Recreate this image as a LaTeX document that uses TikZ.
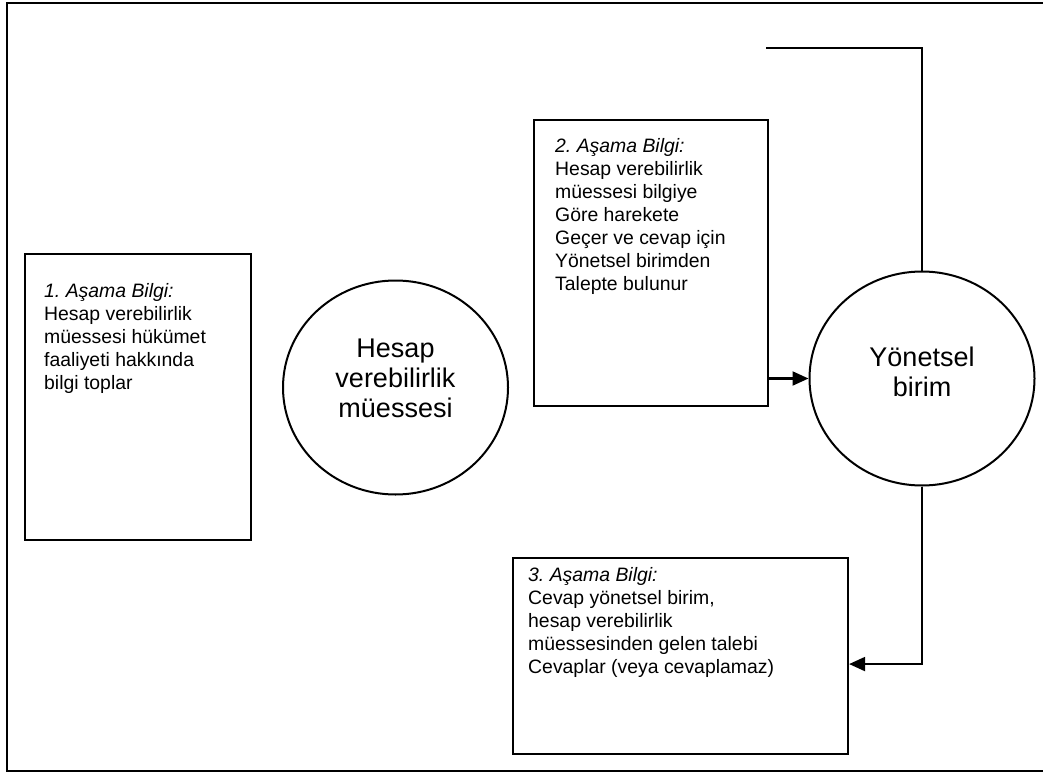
\documentclass[tikz,border=0pt]{standalone}
\usepackage{fontspec}
\setmainfont{Liberation Sans}
\usetikzlibrary{arrows.meta,shapes.geometric}
\frenchspacing
\begin{document}
\begin{tikzpicture}[x=1pt,y=-1pt,
  frameline/.style={line width=2.6pt},
  infobox/.style={draw,line width=2.1pt,anchor=north west,inner sep=0pt},
  infotext/.style={anchor=north west,align=left,inner sep=0pt,
    font=\fontsize{19.4}{23}\selectfont},
  actor/.style={draw,ellipse,line width=2pt,inner sep=0pt,
    minimum width=225pt,minimum height=214pt},
  actortext/.style={align=center,inner sep=0pt,
    font=\fontsize{27}{30}\selectfont},
  conn/.style={line width=2.1pt},
  flow/.style={conn,-{Triangle[length=16pt,width=14pt]}}]
\useasboundingbox (0,0) rectangle (1043,773);
\fill[white] (0,0) rectangle (1043,773);
% outer frame (right side cut off)
\coordinate (fTR) at (1050,3);
\coordinate (fTL) at (7,3);
\coordinate (fBL) at (7,771);
\coordinate (fBR) at (1050,771);
\draw[frameline] (fTR) -- (fTL) -- (fBL) -- (fBR);
% boxes
\node[infobox,minimum width=226pt,minimum height=286pt] (b1) at (24,253) {};
\node[infobox,minimum width=234pt,minimum height=286pt] (b2) at (533,119) {};
\node[infobox,minimum width=335pt,minimum height=196pt] (b3) at (512,557) {};
\node[infotext] (t1) at ([shift={(20,30)}]b1.north west)
  {\textit{1. Aşama Bilgi:}\\Hesap verebilirlik\\müessesi hükümet\\faaliyeti hakkında\\bilgi toplar};
\node[infotext] (t2) at ([shift={(22,19)}]b2.north west)
  {\textit{2. Aşama Bilgi:}\\Hesap verebilirlik\\müessesi bilgiye\\Göre harekete\\Geçer ve cevap için\\Yönetsel birimden\\Talepte bulunur};
\node[infotext] (t3) at ([shift={(16,10)}]b3.north west)
  {\textit{3. Aşama Bilgi:}\\Cevap yönetsel birim,\\hesap verebilirlik\\müessesinden gelen talebi\\Cevaplar (veya cevaplamaz)};
% actors
\node[actor] (c1) at (395.5,387.5) {};
\node[actor] (c2) at (922,378.5) {};
\node[actortext] (c1t) at ([yshift=9pt]c1.center) {Hesap\\verebilirlik\\müessesi};
\node[actortext] (c2t) at ([yshift=7pt]c2.center) {Yönetsel\\birim};
% connectors
\coordinate (topstart) at (766,48);
\draw[conn] (topstart) -| (c2.north);
\draw[flow] (b2.east |- c2.west) -- (c2.west);
\draw[flow] (c2.south) |- ([yshift=-8pt]b3.east);
\end{tikzpicture}
\end{document}
